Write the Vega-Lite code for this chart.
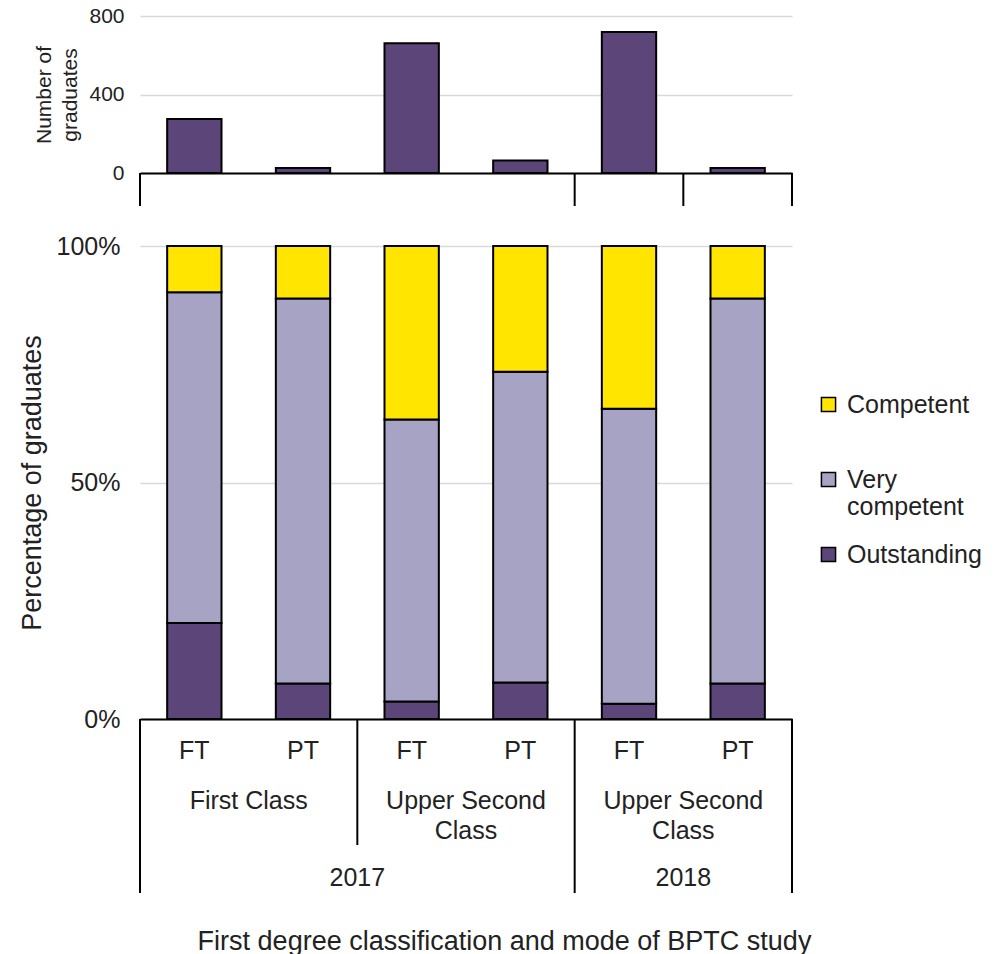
{
  "$schema": "https://vega.github.io/schema/vega-lite/v6.json",
  "background": "white",
  "padding": {"left": 18, "top": 5, "right": 5, "bottom": 0},
  "config": {
    "view": {"stroke": null},
    "font": "Liberation Sans",
    "axis": {"labelColor": "#222222", "titleColor": "#222222", "titleFontWeight": "normal", "labelFont": "Liberation Sans", "titleFont": "Liberation Sans"},
    "legend": {"labelColor": "#222222", "labelFont": "Liberation Sans"},
    "text": {"color": "#222222", "font": "Liberation Sans"}
  },
  "datasets": {
    "counts": [
      {"key": "2017 First Class FT", "count": 275},
      {"key": "2017 First Class PT", "count": 25},
      {"key": "2017 Upper Second FT", "count": 661},
      {"key": "2017 Upper Second PT", "count": 64},
      {"key": "2018 Upper Second FT", "count": 719},
      {"key": "2018 Upper Second PT", "count": 25}
    ],
    "shares": [
      {"key": "2017 First Class FT", "rating": "Outstanding", "rank": 1, "share": 0.203},
      {"key": "2017 First Class FT", "rating": "Very competent", "rank": 2, "share": 0.699},
      {"key": "2017 First Class FT", "rating": "Competent", "rank": 3, "share": 0.098},
      {"key": "2017 First Class PT", "rating": "Outstanding", "rank": 1, "share": 0.075},
      {"key": "2017 First Class PT", "rating": "Very competent", "rank": 2, "share": 0.814},
      {"key": "2017 First Class PT", "rating": "Competent", "rank": 3, "share": 0.111},
      {"key": "2017 Upper Second FT", "rating": "Outstanding", "rank": 1, "share": 0.037},
      {"key": "2017 Upper Second FT", "rating": "Very competent", "rank": 2, "share": 0.596},
      {"key": "2017 Upper Second FT", "rating": "Competent", "rank": 3, "share": 0.367},
      {"key": "2017 Upper Second PT", "rating": "Outstanding", "rank": 1, "share": 0.077},
      {"key": "2017 Upper Second PT", "rating": "Very competent", "rank": 2, "share": 0.657},
      {"key": "2017 Upper Second PT", "rating": "Competent", "rank": 3, "share": 0.266},
      {"key": "2018 Upper Second FT", "rating": "Outstanding", "rank": 1, "share": 0.032},
      {"key": "2018 Upper Second FT", "rating": "Very competent", "rank": 2, "share": 0.624},
      {"key": "2018 Upper Second FT", "rating": "Competent", "rank": 3, "share": 0.344},
      {"key": "2018 Upper Second PT", "rating": "Outstanding", "rank": 1, "share": 0.075},
      {"key": "2018 Upper Second PT", "rating": "Very competent", "rank": 2, "share": 0.814},
      {"key": "2018 Upper Second PT", "rating": "Competent", "rank": 3, "share": 0.111}
    ],
    "axisLabels": [
      {"level": "mode", "key": "2017 First Class FT", "label": "FT"},
      {"level": "mode", "key": "2017 First Class PT", "label": "PT"},
      {"level": "mode", "key": "2017 Upper Second FT", "label": "FT"},
      {"level": "mode", "key": "2017 Upper Second PT", "label": "PT"},
      {"level": "mode", "key": "2018 Upper Second FT", "label": "FT"},
      {"level": "mode", "key": "2018 Upper Second PT", "label": "PT"},
      {"level": "class", "key": "2017 First Class FT", "label": "First Class"},
      {"level": "class", "key": "2017 Upper Second FT", "label": "Upper Second\nClass"},
      {"level": "class", "key": "2018 Upper Second FT", "label": "Upper Second\nClass"},
      {"level": "year", "key": "2017 First Class PT", "label": "2017"},
      {"level": "year", "key": "2018 Upper Second FT", "label": "2018"}
    ],
    "separators": [
      {"panel": "top", "edge": "start", "key": "2017 First Class FT"},
      {"panel": "top", "edge": "start", "key": "2018 Upper Second FT"},
      {"panel": "top", "edge": "start", "key": "2018 Upper Second PT"},
      {"panel": "top", "edge": "end", "key": "2018 Upper Second PT"},
      {"panel": "mid", "edge": "start", "key": "2017 First Class FT"},
      {"panel": "mid", "edge": "start", "key": "2017 Upper Second FT"},
      {"panel": "mid", "edge": "start", "key": "2018 Upper Second FT"},
      {"panel": "mid", "edge": "end", "key": "2018 Upper Second PT"},
      {"panel": "bottom", "edge": "start", "key": "2017 First Class FT"},
      {"panel": "bottom", "edge": "start", "key": "2018 Upper Second FT"},
      {"panel": "bottom", "edge": "end", "key": "2018 Upper Second PT"}
    ]
  },
  "spacing": 27,
  "resolve": {"scale": {"x": "independent", "y": "independent"}},
  "vconcat": [
    {
      "spacing": 0,
      "bounds": "flush",
      "resolve": {"scale": {"x": "independent", "y": "independent"}},
      "vconcat": [
        {
          "width": 652,
          "height": 157,
          "data": {"name": "counts"},
          "mark": {"type": "bar", "width": {"band": 0.5}, "color": "#5C4579", "stroke": "black", "strokeWidth": 2},
          "encoding": {
            "x": {"field": "key", "type": "nominal", "scale": {"domain": ["2017 First Class FT", "2017 First Class PT", "2017 Upper Second FT", "2017 Upper Second PT", "2018 Upper Second FT", "2018 Upper Second PT"], "paddingInner": 0, "paddingOuter": 0}, "axis": {"labels": false, "ticks": false, "title": null, "domainColor": "black", "domainWidth": 2}},
            "y": {"field": "count", "type": "quantitative", "scale": {"domain": [0, 800]}, "axis": {"values": [0, 400, 800], "title": ["Number of", "graduates"], "titleFontSize": 21, "titleLineHeight": 26, "labelFontSize": 21, "labelFlush": false, "domain": false, "ticks": false, "labelPadding": 16, "gridColor": "#D9D9D9", "gridWidth": 1.5, "titlePadding": 8}}
          }
        },
        {
          "width": 652,
          "height": 33,
          "data": {"name": "separators"},
          "transform": [{"filter": "datum.panel == 'top'"}],
          "layer": [
            {
              "transform": [{"filter": "datum.edge == 'start'"}],
              "mark": {"type": "rule", "color": "black", "strokeWidth": 2},
              "encoding": {"x": {"field": "key", "type": "nominal", "bandPosition": 0, "scale": {"domain": ["2017 First Class FT", "2017 First Class PT", "2017 Upper Second FT", "2017 Upper Second PT", "2018 Upper Second FT", "2018 Upper Second PT"], "paddingInner": 0, "paddingOuter": 0}, "axis": null}}
            },
            {
              "transform": [{"filter": "datum.edge == 'end'"}],
              "mark": {"type": "rule", "color": "black", "strokeWidth": 2},
              "encoding": {"x": {"field": "key", "type": "nominal", "bandPosition": 1, "scale": {"domain": ["2017 First Class FT", "2017 First Class PT", "2017 Upper Second FT", "2017 Upper Second PT", "2018 Upper Second FT", "2018 Upper Second PT"], "paddingInner": 0, "paddingOuter": 0}, "axis": null}}
            }
          ]
        }
      ]
    },
    {
      "spacing": 0,
      "bounds": "flush",
      "resolve": {"scale": {"x": "independent", "y": "independent"}},
      "vconcat": [
        {
          "width": 652,
          "height": 473,
          "data": {"name": "shares"},
          "mark": {"type": "bar", "width": {"band": 0.5}, "stroke": "black", "strokeWidth": 2},
          "encoding": {
            "x": {"field": "key", "type": "nominal", "scale": {"domain": ["2017 First Class FT", "2017 First Class PT", "2017 Upper Second FT", "2017 Upper Second PT", "2018 Upper Second FT", "2018 Upper Second PT"], "paddingInner": 0, "paddingOuter": 0}, "axis": {"labels": false, "ticks": false, "title": null, "domainColor": "black", "domainWidth": 2}},
            "y": {"field": "share", "type": "quantitative", "stack": "zero", "scale": {"domain": [0, 1]}, "axis": {"values": [0, 0.5, 1], "format": ".0%", "title": "Percentage of  graduates", "titleFontSize": 27, "labelFontSize": 25, "labelFlush": false, "domain": false, "ticks": false, "labelPadding": 20, "gridColor": "#D9D9D9", "gridWidth": 1.5, "titlePadding": 10}},
            "color": {"field": "rating", "type": "nominal", "scale": {"domain": ["Competent", "Very competent", "Outstanding"], "range": ["#FFE500", "#A7A3C5", "#5C4579"]}, "legend": {"title": null, "orient": "none", "legendX": 676, "legendY": 376, "symbolType": "square", "symbolSize": 200, "symbolStrokeColor": "black", "symbolStrokeWidth": 1.5, "labelFontSize": 25, "labelExpr": "datum.label == 'Very competent' ? ['Very', 'competent'] : datum.label", "gridAlign": "all", "rowPadding": 22, "labelOffset": 6, "symbolOpacity": 1, "padding": 0}},
            "order": {"field": "rank", "type": "quantitative"}
          }
        },
        {
          "width": 652,
          "height": 126,
          "layer": [
            {
              "data": {"name": "separators"},
              "transform": [{"filter": "datum.panel == 'mid' && datum.edge == 'start'"}],
              "mark": {"type": "rule", "color": "black", "strokeWidth": 2},
              "encoding": {"x": {"field": "key", "type": "nominal", "bandPosition": 0, "scale": {"domain": ["2017 First Class FT", "2017 First Class PT", "2017 Upper Second FT", "2017 Upper Second PT", "2018 Upper Second FT", "2018 Upper Second PT"], "paddingInner": 0, "paddingOuter": 0}, "axis": null}}
            },
            {
              "data": {"name": "separators"},
              "transform": [{"filter": "datum.panel == 'mid' && datum.edge == 'end'"}],
              "mark": {"type": "rule", "color": "black", "strokeWidth": 2},
              "encoding": {"x": {"field": "key", "type": "nominal", "bandPosition": 1, "scale": {"domain": ["2017 First Class FT", "2017 First Class PT", "2017 Upper Second FT", "2017 Upper Second PT", "2018 Upper Second FT", "2018 Upper Second PT"], "paddingInner": 0, "paddingOuter": 0}, "axis": null}}
            },
            {
              "data": {"name": "axisLabels"},
              "transform": [{"filter": "datum.level == 'mode'"}],
              "mark": {"type": "text", "fontSize": 25, "baseline": "middle"},
              "encoding": {
                "x": {"field": "key", "type": "nominal", "scale": {"domain": ["2017 First Class FT", "2017 First Class PT", "2017 Upper Second FT", "2017 Upper Second PT", "2018 Upper Second FT", "2018 Upper Second PT"], "paddingInner": 0, "paddingOuter": 0}, "axis": null},
                "y": {"field": "level", "type": "nominal", "scale": {"type": "band", "domain": ["mode", "class"], "paddingInner": 0, "paddingOuter": 0}, "axis": null},
                "text": {"field": "label"}
              }
            },
            {
              "data": {"name": "axisLabels"},
              "transform": [{"filter": "datum.level == 'class'"}],
              "mark": {"type": "text", "fontSize": 25, "baseline": "top", "dy": 7, "lineBreak": "\n", "lineHeight": 30},
              "encoding": {
                "x": {"field": "key", "type": "nominal", "bandPosition": 1, "scale": {"domain": ["2017 First Class FT", "2017 First Class PT", "2017 Upper Second FT", "2017 Upper Second PT", "2018 Upper Second FT", "2018 Upper Second PT"], "paddingInner": 0, "paddingOuter": 0}, "axis": null},
                "y": {"field": "level", "type": "nominal", "bandPosition": 0, "scale": {"type": "band", "domain": ["mode", "class"], "paddingInner": 0, "paddingOuter": 0}, "axis": null},
                "text": {"field": "label"}
              }
            }
          ]
        },
        {
          "width": 652,
          "height": 48,
          "layer": [
            {
              "data": {"name": "separators"},
              "transform": [{"filter": "datum.panel == 'bottom' && datum.edge == 'start'"}],
              "mark": {"type": "rule", "color": "black", "strokeWidth": 2},
              "encoding": {"x": {"field": "key", "type": "nominal", "bandPosition": 0, "scale": {"domain": ["2017 First Class FT", "2017 First Class PT", "2017 Upper Second FT", "2017 Upper Second PT", "2018 Upper Second FT", "2018 Upper Second PT"], "paddingInner": 0, "paddingOuter": 0}, "axis": {"labels": false, "ticks": false, "domain": false, "title": "First degree classification and mode of BPTC study", "titleFontSize": 27, "titlePadding": 35, "titleX": 364}}}
            },
            {
              "data": {"name": "separators"},
              "transform": [{"filter": "datum.panel == 'bottom' && datum.edge == 'end'"}],
              "mark": {"type": "rule", "color": "black", "strokeWidth": 2},
              "encoding": {"x": {"field": "key", "type": "nominal", "bandPosition": 1, "scale": {"domain": ["2017 First Class FT", "2017 First Class PT", "2017 Upper Second FT", "2017 Upper Second PT", "2018 Upper Second FT", "2018 Upper Second PT"], "paddingInner": 0, "paddingOuter": 0}, "axis": {"labels": false, "ticks": false, "domain": false, "title": "First degree classification and mode of BPTC study", "titleFontSize": 27, "titlePadding": 35, "titleX": 364}}}
            },
            {
              "data": {"name": "axisLabels"},
              "transform": [{"filter": "datum.level == 'year'"}],
              "mark": {"type": "text", "fontSize": 25, "baseline": "middle", "dy": 9},
              "encoding": {
                "x": {"field": "key", "type": "nominal", "bandPosition": 1, "scale": {"domain": ["2017 First Class FT", "2017 First Class PT", "2017 Upper Second FT", "2017 Upper Second PT", "2018 Upper Second FT", "2018 Upper Second PT"], "paddingInner": 0, "paddingOuter": 0}, "axis": {"labels": false, "ticks": false, "domain": false, "title": "First degree classification and mode of BPTC study", "titleFontSize": 27, "titlePadding": 35, "titleX": 364}},
                "text": {"field": "label"}
              }
            }
          ]
        }
      ]
    }
  ]
}
